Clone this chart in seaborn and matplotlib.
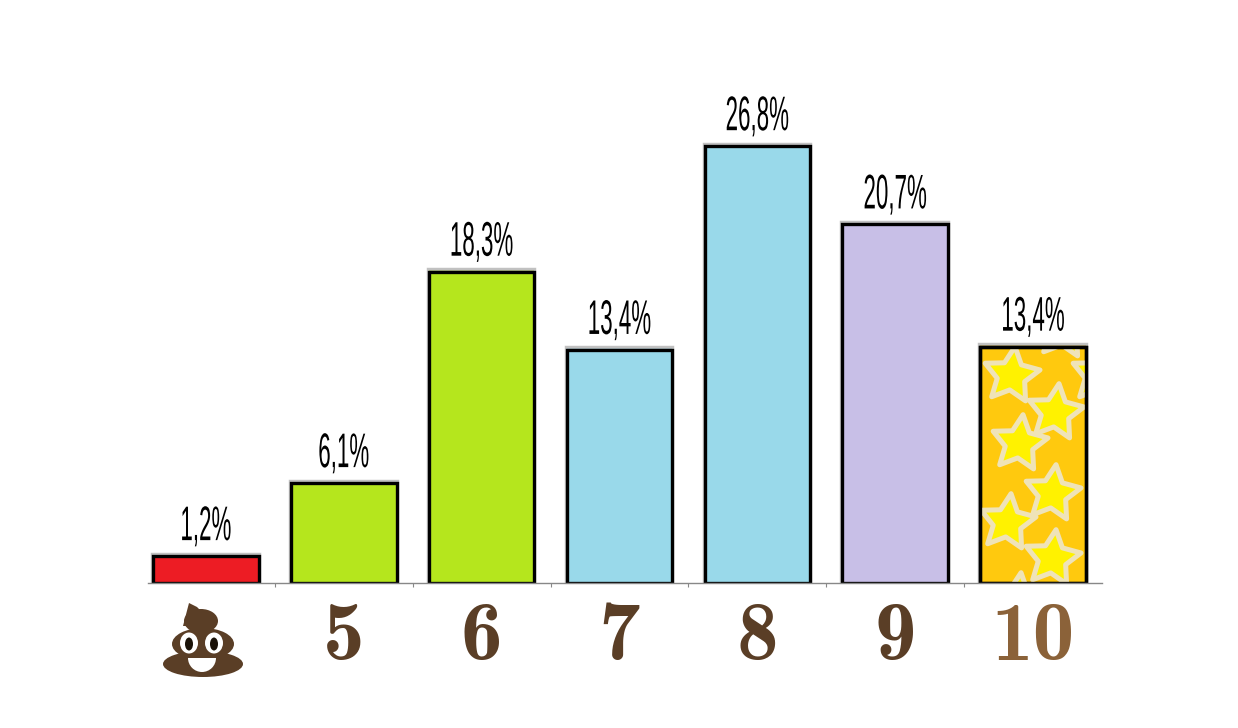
import matplotlib
matplotlib.use("Agg")
import matplotlib.pyplot as plt
import matplotlib.patheffects as pe
from matplotlib.patches import Ellipse, Polygon, Wedge
from matplotlib.transforms import Affine2D, ScaledTranslation
import seaborn as sns

categories = ["poo", "5", "6", "7", "8", "9", "10"]
tick_labels = ["", "5", "6", "7", "8", "9", "10"]
# bar heights as drawn (they don't quite follow the printed labels)
heights = [1.65, 6.13, 19.1, 14.3, 26.8, 22.0, 14.5]
value_labels = ["1,2%", "6,1%", "18,3%", "13,4%", "26,8%", "20,7%", "13,4%"]
bar_colors = ["#ED1C24", "#B5E61D", "#B5E61D", "#99D9EA", "#99D9EA", "#C8BFE7", "#FFC90E"]
tick_colors = ["#5A3E26"] * 6 + ["#8B6239"]

# star pattern on the last bar
star_x = [5.84, 6.16, 5.90, 6.14, 5.81, 6.14, 5.88, 6.48, 6.22]
star_y = [12.76, 10.49, 8.59, 5.52, 3.74, 1.53, -1.1, 12.76, 15.5]

W, H = 1238, 728
BASE_Y = 583
BROWN = "#5A3E26"


class Squeeze(pe.AbstractPathEffect):
    """Squeezes text sideways around cx, the labels use a very condensed face."""

    def __init__(self, cx, sx):
        super().__init__()
        self.cx, self.sx = cx, sx

    def draw_path(self, renderer, gc, tpath, affine, rgbFace=None):
        squeeze = Affine2D().translate(-self.cx, 0).scale(self.sx, 1).translate(self.cx, 0)
        renderer.draw_path(gc, tpath, affine + squeeze, rgbFace)


def draw_poo(fig):
    # the emoji has no installed font, so it is built from shapes (figure pixels)
    px = Affine2D().scale(1, -1).translate(0, H)
    shapes = [
        Polygon([(183, 626), (189, 603), (197, 607), (216, 626)], fc=BROWN),
        Ellipse((201, 621), 34, 24, fc=BROWN),
        Ellipse((203, 644), 62, 32, fc=BROWN),
        Ellipse((203, 664), 80, 26, fc=BROWN),
        Ellipse((189, 643), 18, 21, fc="white"),
        Ellipse((214, 643), 18, 21, fc="white"),
        Ellipse((189, 644), 8, 13, fc="#1A1208"),
        Ellipse((214, 644), 8, 13, fc="#1A1208"),
        Wedge((202, 658), 14, 0, 180, fc="white"),
    ]
    for s in shapes:
        s.set_transform(px)
        s.set_linewidth(0)
        fig.add_artist(s)


fig = plt.figure(figsize=(W / 100, H / 100), dpi=100, facecolor="white")
ax = fig.add_axes([137 / W, (H - BASE_Y) / H, 965 / W, BASE_Y / H])
ax.patch.set_alpha(0)

sns.barplot(x=categories, y=heights, hue=categories, palette=bar_colors, legend=False,
            width=0.765, saturation=1, edgecolor="black", linewidth=2.4, ax=ax)
ax.set_xlim(-0.5, 6.5)
ax.set_ylim(0, BASE_Y / 16.3)

glow = [pe.Stroke(linewidth=3.2, foreground="#777777", alpha=0.45, offset=(0, 1.1)), pe.Normal()]
for bar in ax.patches:
    bar.set_path_effects(glow)

# stars, clipped to the last bar, outline put back on top
stars = ax.scatter(star_x, star_y, s=1750, marker=(5, 1, -7), color="#FFF200",
                   edgecolor="#EFE3B8", linewidth=3.6, zorder=2)
stars.set_clip_path(ax.patches[6])
ax.bar(6, heights[6], width=0.765, fill=False, edgecolor="black", linewidth=2.4, zorder=2.2)

for i, (h, label) in enumerate(zip(heights, value_labels)):
    cx = ax.transData.transform((i, 0))[0]
    ax.annotate(label, (i, h), xytext=(0, 11.5), textcoords="offset points", ha="center", va="baseline",
                family=["Liberation Sans Narrow", "Liberation Sans"], fontsize=35, color="black",
                path_effects=[Squeeze(cx, 0.46)])

ax.set_yticks([])
ax.set_xticks(range(len(categories)))
ax.set_xticklabels(tick_labels, family="cmb10", fontsize=60)
nudge = ScaledTranslation(2 / 72, 0, fig.dpi_scale_trans)
for lab, c in zip(ax.get_xticklabels(), tick_colors):
    lab.set_color(c)
    lab.set_transform(lab.get_transform() + nudge)
ax.tick_params(axis="x", which="major", length=0, pad=14)
ax.set_xticks([0.5, 1.5, 2.5, 3.5, 4.5, 5.5], minor=True)
ax.tick_params(axis="x", which="minor", length=3, width=0.8, color="#888888")
ax.set_xlabel("")
sns.despine(ax=ax, left=True)
ax.spines["bottom"].set_color("#888888")
ax.spines["bottom"].set_linewidth(1)
ax.spines["bottom"].set_bounds(-0.42, 6.5)

draw_poo(fig)

fig.savefig("out.png", dpi=100, facecolor="white")
